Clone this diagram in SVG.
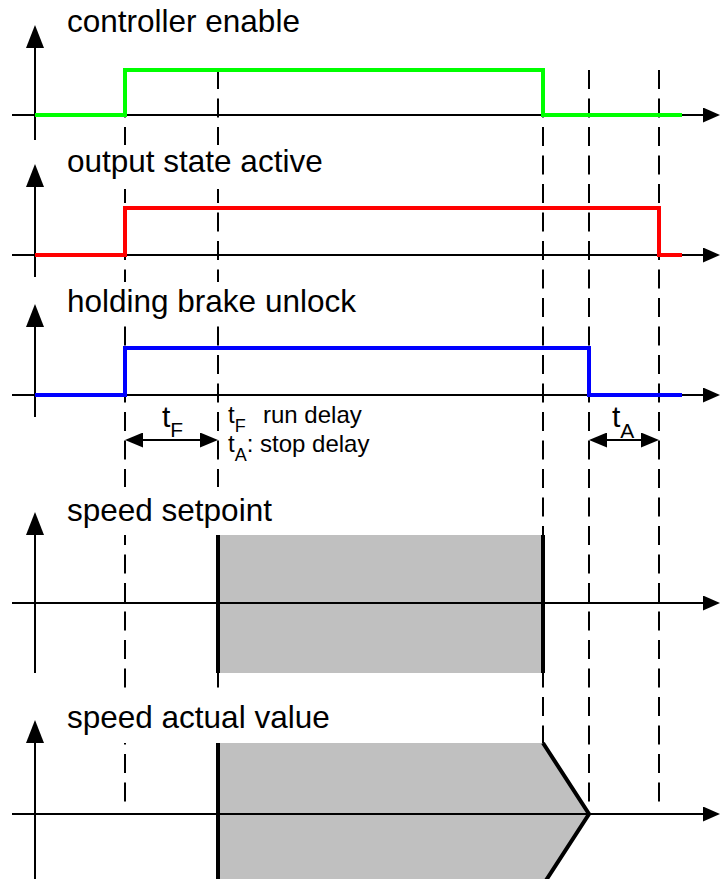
<svg xmlns="http://www.w3.org/2000/svg" width="720" height="879" viewBox="0 0 720 879">
<style>
.lbl{font-family:"Liberation Sans",Arial,sans-serif;font-size:31.5px;fill:#000}
.sm{font-family:"Liberation Sans",Arial,sans-serif;font-size:24px;fill:#000}
.big{font-family:"Liberation Sans",Arial,sans-serif;font-size:30px;fill:#000}
.sub{font-size:18px}
.bsub{font-size:21px}
.vax{stroke:#000;stroke-width:2;fill:none;marker-end:url(#av)}
.hax{stroke:#000;stroke-width:2;fill:none;marker-end:url(#ah)}
.dash{stroke:#000;stroke-width:2;stroke-dasharray:19 9.5;fill:none}
.sig{stroke-width:4;fill:none;stroke-linejoin:miter}
.thick{stroke:#000;stroke-width:4;fill:none}
.bg{fill:#fff}
.gray{fill:#c0c0c0}
.dim{stroke:#000;stroke-width:2;fill:none;marker-start:url(#ad);marker-end:url(#ad)}
</style>
<defs>
<marker id="av" markerUnits="userSpaceOnUse" markerWidth="23" markerHeight="18" viewBox="0 0 23 18" refX="0" refY="9" orient="auto"><path d="M0,0 L23,9 L0,18 z" fill="#000"/></marker>
<marker id="ah" markerUnits="userSpaceOnUse" markerWidth="17" markerHeight="15" viewBox="0 0 17 15" refX="0" refY="7.5" orient="auto"><path d="M0,0 L17,7.5 L0,15 z" fill="#000"/></marker>
<marker id="ad" markerUnits="userSpaceOnUse" markerWidth="18" markerHeight="15" viewBox="0 0 18 15" refX="0" refY="7.5" orient="auto-start-reverse"><path d="M0,0 L18,7.5 L0,15 z" fill="#000"/></marker>
</defs>
<g id="connectors">
<line class="dash" x1="125" y1="70" x2="125" y2="803"/>
<line class="dash" x1="218" y1="70" x2="218" y2="803"/>
<line class="dash" x1="543" y1="70" x2="543" y2="803"/>
<line class="dash" x1="589" y1="70" x2="589" y2="803"/>
<line class="dash" x1="659" y1="70" x2="659" y2="803"/>
</g>
<g id="controller-enable">
<rect class="bg" x="62" y="0" width="245" height="47"/>
<text class="lbl" x="67" y="32">controller enable</text>
<line class="vax" x1="35" y1="140" x2="35" y2="48"/>
<line class="hax" x1="12" y1="115" x2="703" y2="115"/>
<polyline class="sig" stroke="#00ff00" points="35,115 125,115 125,70 543,70 543,115 682,115"/>
</g>
<g id="output-state-active">
<rect class="bg" x="62" y="145" width="270" height="44"/>
<text class="lbl" x="67" y="172">output state active</text>
<line class="vax" x1="35" y1="277" x2="35" y2="187"/>
<line class="hax" x1="12" y1="255" x2="703" y2="255"/>
<polyline class="sig" stroke="#ff0000" points="35,255 125,255 125,208 659,208 659,255 682,255"/>
</g>
<g id="holding-brake-unlock">
<rect class="bg" x="62" y="282" width="300" height="44"/>
<text class="lbl" x="67" y="312">holding brake unlock</text>
<line class="vax" x1="35" y1="417" x2="35" y2="327"/>
<line class="hax" x1="12" y1="395" x2="703" y2="395"/>
<polyline class="sig" stroke="#0000ff" points="35,395 125,395 125,348 589,348 589,395 682,395"/>
</g>
<g id="delays">
<line class="dim" x1="143" y1="440" x2="200" y2="440"/>
<text class="big" x="162" y="427">t<tspan class="bsub" dy="10">F</tspan></text>
<line class="dim" x1="607" y1="440" x2="641" y2="440"/>
<text class="big" x="612" y="427">t<tspan class="bsub" dy="11">A</tspan></text>
<text class="sm" x="228" y="423">t<tspan class="sub" dy="9">F</tspan><tspan x="263" y="423">run delay</tspan></text>
<text class="sm" x="228" y="452">t<tspan class="sub" dy="9">A</tspan><tspan dy="-9">: stop delay</tspan></text>
</g>
<g id="speed-setpoint">
<rect class="bg" x="62" y="487" width="245" height="48"/>
<text class="lbl" x="67" y="521">speed setpoint</text>
<rect class="gray" x="218" y="535" width="325" height="138"/>
<line class="vax" x1="35" y1="673" x2="35" y2="535"/>
<line class="hax" x1="12" y1="603" x2="703" y2="603"/>
<line class="thick" x1="218" y1="535" x2="218" y2="673"/>
<line class="thick" x1="543" y1="535" x2="543" y2="673"/>
</g>
<g id="speed-actual-value">
<rect class="bg" x="62" y="695" width="280" height="48"/>
<text class="lbl" x="67" y="728">speed actual value</text>
<polygon class="gray" points="218,743 543,743 589,814 543,885 218,885"/>
<line class="vax" x1="35" y1="879" x2="35" y2="743"/>
<line class="hax" x1="12" y1="814" x2="703" y2="814"/>
<line class="thick" x1="218" y1="743" x2="218" y2="879"/>
<polyline class="thick" points="543,743 589,814 543,885"/>
</g>
</svg>
